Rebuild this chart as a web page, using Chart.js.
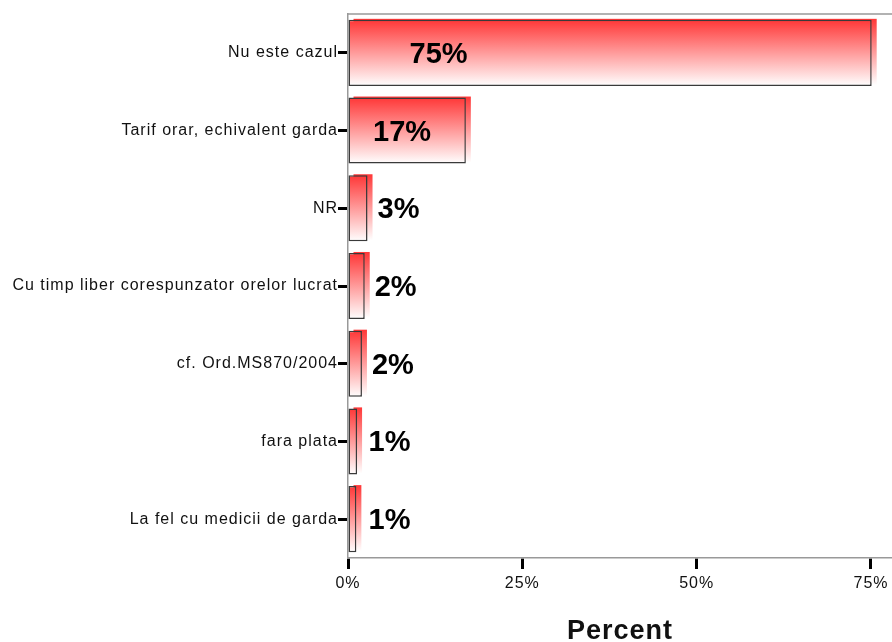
<!DOCTYPE html>
<html>
<head>
<meta charset="utf-8">
<script src="https://cdn.jsdelivr.net/npm/chart.js@4.4.0/dist/chart.umd.min.js"></script>
<style>
  html, body { margin: 0; padding: 0; background: #fff; }
  #wrap { width: 892px; height: 642px; position: relative; }
</style>
</head>
<body>
<div id="wrap"><canvas id="percent"></canvas></div>
<script>
const categories = [
  'Nu este cazul',
  'Tarif orar, echivalent garda',
  'NR',
  'Cu timp liber corespunzator orelor lucrat',
  'cf. Ord.MS870/2004',
  'fara plata',
  'La fel cu medicii de garda'
];
const percentValues = [75.1, 16.9, 2.8, 2.4, 2.0, 1.3, 1.2];
const percentLabels = ['75%', '17%', '3%', '2%', '2%', '1%', '1%'];
const xTickValues = [0, 25, 50, 75];

const FONT = "'Liberation Sans', Arial, sans-serif";

function barGradient(ctx, top, bottom) {
  const g = ctx.createLinearGradient(0, top, 0, bottom);
  g.addColorStop(0, 'rgb(255, 55, 55)');
  g.addColorStop(1, 'rgb(255, 255, 255)');
  return g;
}

// the SPSS look has a little letter spacing on the axis texts
const spacing = {
  id: 'spacing',
  beforeDraw(chart) { chart.ctx.letterSpacing = '1px' },
  afterDraw(chart) { chart.ctx.letterSpacing = '0px' }
};

// red fill sticks out a few px to the right of the outlined box
const shiftedFill = {
  id: 'shiftedFill',
  beforeDatasetsDraw(chart) {
    const ctx = chart.ctx;
    ctx.save();
    chart.getDatasetMeta(0).data.forEach(bar => {
      const p = bar.getProps(['x', 'y', 'base', 'height'], true);
      const top = p.y - p.height / 2 - 1;
      ctx.fillStyle = barGradient(ctx, top, top + p.height);
      ctx.fillRect(p.base + 5, top, p.x - p.base, p.height);
    });
    ctx.restore();
  }
};

const valueLabels = {
  id: 'valueLabels',
  afterDatasetsDraw(chart) {
    const ctx = chart.ctx;
    ctx.save();
    ctx.letterSpacing = '0px';
    ctx.font = `bold 29px ${FONT}`;
    ctx.fillStyle = '#000';
    ctx.textBaseline = 'middle';
    ctx.textAlign = 'left';
    chart.getDatasetMeta(0).data.forEach((bar, i) => {
      const p = bar.getProps(['x', 'y', 'base'], true);
      const w = p.x - p.base;
      const x = w > 60 ? p.base + 14 + w * 0.09 : Math.max(p.x + 10, p.base + 20);
      ctx.fillText(percentLabels[i], x, p.y + 2);
    });
    ctx.restore();
  }
};

const frameTop = {
  id: 'frameTop',
  afterDraw(chart) {
    const { ctx, chartArea } = chart;
    ctx.save();
    ctx.strokeStyle = '#999';
    ctx.lineWidth = 1.5;
    ctx.beginPath();
    ctx.moveTo(chartArea.left, chartArea.top);
    ctx.lineTo(chart.width, chartArea.top);
    ctx.stroke();
    ctx.restore();
  }
};

const ctx = document.getElementById('percent').getContext('2d');

new Chart(ctx, {
  type: 'bar',
  plugins: [spacing, shiftedFill, valueLabels, frameTop],
  data: {
    labels: categories,
    datasets: [{
      label: 'Percent',
      data: percentValues,
      backgroundColor: (c) => {
        const y = c.chart.scales.y;
        if (!y || c.type !== 'data') return 'rgb(255, 150, 150)';
        const yc = y.getPixelForValue(c.dataIndex);
        const h = y.height / categories.length * 0.85;
        if (!isFinite(yc) || !isFinite(h)) return 'rgb(255, 150, 150)';
        return barGradient(c.chart.ctx, yc - h / 2, yc + h / 2);
      },
      borderColor: '#3a3a3a',
      borderWidth: 1.5,
      borderSkipped: false,
      categoryPercentage: 1,
      barPercentage: 0.85
    }]
  },
  options: {
    indexAxis: 'y',
    responsive: true,
    maintainAspectRatio: false,
    animation: false,
    layout: { padding: { top: 14, right: 0, bottom: 0, left: 0 } },
    plugins: {
      legend: { display: false },
      tooltip: { enabled: false }
    },
    scales: {
      x: {
        min: 0,
        max: 78,
        afterFit: s => { s.height = 84 },
        afterBuildTicks: s => { s.ticks = xTickValues.map(v => ({ value: v })) },
        grid: { drawOnChartArea: false, tickLength: 11, tickWidth: 3, tickColor: '#000' },
        border: { color: '#999', width: 1.5 },
        ticks: {
          callback: v => v + '%',
          color: '#111',
          font: { family: FONT, size: 16 },
          padding: 5,
          maxRotation: 0
        },
        title: {
          display: true,
          text: 'Percent',
          color: '#111',
          font: { family: FONT, size: 27, weight: 'bold', lineHeight: 0.8 },
          padding: 0
        }
      },
      y: {
        afterFit: s => { s.width = 348 },
        grid: { offset: false, drawOnChartArea: false, tickLength: 10, tickWidth: 3, tickColor: '#000' },
        border: { color: '#999', width: 1.5 },
        ticks: {
          color: '#111',
          font: { family: FONT, size: 16 },
          padding: 0
        }
      }
    }
  }
});
</script>
</body>
</html>
